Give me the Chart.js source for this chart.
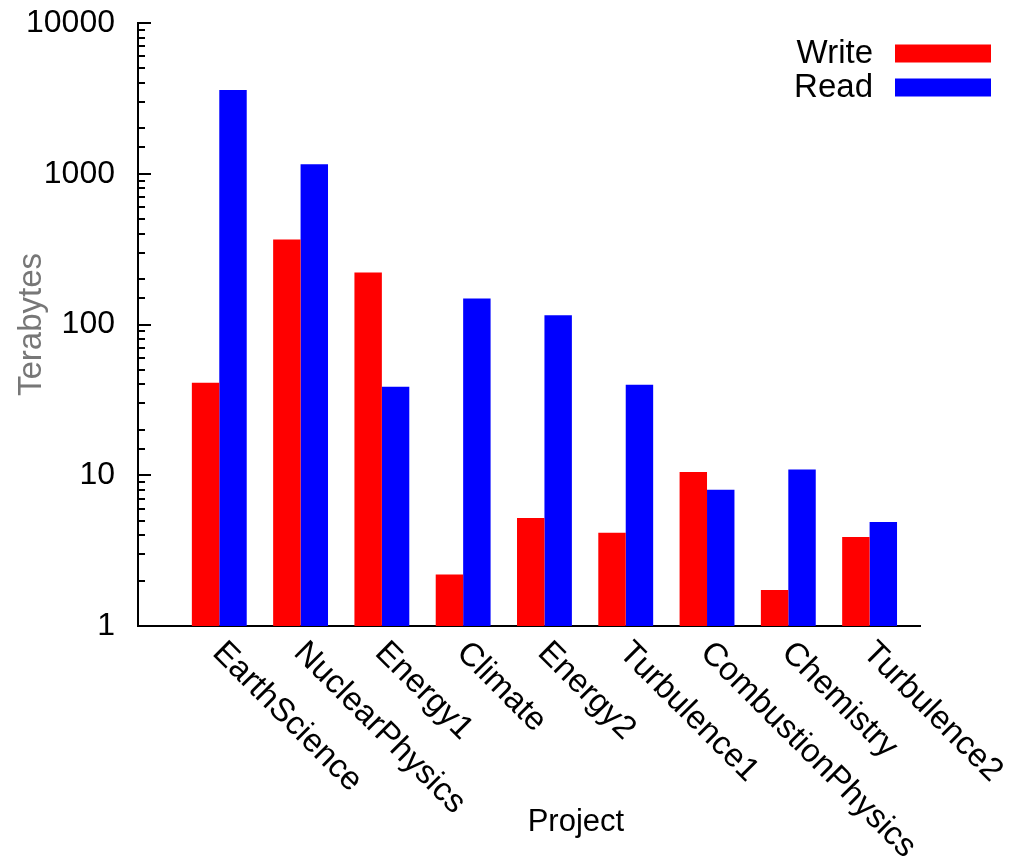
<!DOCTYPE html>
<html>
<head>
<meta charset="utf-8">
<title>Terabytes per project</title>
<script src="https://cdn.jsdelivr.net/npm/chart.js@4"></script>
<style>
  html, body { margin: 0; padding: 0; background: #fff; }
  #wrap { width: 1012px; height: 865px; position: relative; }
</style>
</head>
<body>
<div id="wrap"><canvas id="io-chart"></canvas></div>
<script>
/* ---- data ---- */
var projects = ['EarthScience', 'NuclearPhysics', 'Energy1', 'Climate', 'Energy2',
                'Turbulence1', 'CombustionPhysics', 'Chemistry', 'Turbulence2'];
var writeTB = [41, 367, 221, 2.2, 5.2, 4.15, 10.5, 1.73, 3.9];
var readTB  = [3590, 1157, 38.7, 149, 115, 39.9, 8.0, 10.9, 4.9];
var seriesNames = ['Write', 'Read'];
var yTitle = 'Terabytes';
var xTitle = 'Project';

(function() {
  var FONT = '"Liberation Sans", Arial, sans-serif';
  Chart.defaults.font.family = FONT;
  Chart.defaults.font.size = 32;
  Chart.defaults.color = '#000';

  function isDecade(v) {
    var l = Math.log10(v);
    return Math.abs(l - Math.round(l)) < 1e-9;
  }

  function points(arr) {
    return arr.map(function(v, i) { return { x: i, y: v }; });
  }

  // gnuplot-ish bits Chart.js won't do by itself:
  // inward y ticks, 45deg labels hanging from the tick, key inside the plot
  var overlay = {
    id: 'overlay',
    afterDraw: function(chart) {
      var ctx = chart.ctx;
      var xs = chart.scales.x, ys = chart.scales.y;
      var area = chart.chartArea;
      ctx.save();

      ctx.strokeStyle = '#000';
      ctx.lineWidth = 2;
      ys.ticks.forEach(function(t) {
        var y = Math.round(ys.getPixelForValue(t.value));
        var len = isDecade(t.value) ? 13 : 7;
        ctx.beginPath();
        ctx.moveTo(area.left, y);
        ctx.lineTo(area.left + len, y);
        ctx.stroke();
      });

      ctx.font = '33px ' + FONT;
      ctx.fillStyle = '#000';
      ctx.textAlign = 'left';
      ctx.textBaseline = 'alphabetic';
      projects.forEach(function(name, i) {
        var x = xs.getPixelForValue(i);
        ctx.save();
        ctx.translate(x - 8, area.bottom + 28);
        ctx.rotate(Math.PI / 4);
        ctx.fillText(name, 0, 0);
        ctx.restore();
      });

      ctx.font = '31px ' + FONT;
      ctx.textAlign = 'center';
      ctx.fillText(xTitle, area.left + (area.right - area.left) * 0.56, 831);

      // key
      ctx.font = '33px ' + FONT;
      ctx.textAlign = 'right';
      ctx.textBaseline = 'middle';
      chart.data.datasets.forEach(function(ds, i) {
        var cy = 53.5 + i * 34;
        ctx.fillStyle = '#000';
        ctx.fillText(ds.label, 873, cy);
        ctx.fillStyle = ds.backgroundColor;
        ctx.fillRect(895, cy - 9, 96, 18);
      });

      ctx.restore();
    }
  };

  var el = document.getElementById('io-chart');
  new Chart(el, {
    type: 'bar',
    data: {
      datasets: [{
        label: seriesNames[0],
        data: points(writeTB),
        backgroundColor: '#ff0000',
        borderWidth: 0
      }, {
        label: seriesNames[1],
        data: points(readTB),
        backgroundColor: '#0000ff',
        borderWidth: 0
      }]
    },
    options: {
      responsive: true,
      maintainAspectRatio: false,
      animation: false,
      layout: { padding: { top: 23, right: 92, bottom: 239, left: 0 } },
      datasets: { bar: { categoryPercentage: 0.675, barPercentage: 1 } },
      plugins: {
        legend: { display: false },
        tooltip: { enabled: false }
      },
      scales: {
        x: {
          type: 'linear',
          offset: false,
          min: -1,
          max: 8.62,
          ticks: { display: false },
          grid: { display: false, drawTicks: false, offset: false },
          border: { display: true, color: '#000', width: 2 }
        },
        y: {
          type: 'logarithmic',
          min: 1,
          max: 10000,
          afterFit: function(scale) {
            scale.width = 138;
            scale.paddingTop = 0;
            scale.paddingBottom = 0;
          },
          title: {
            display: true,
            text: yTitle,
            color: '#777',
            font: { size: 33 },
            padding: { top: 12, bottom: 0 }
          },
          ticks: {
            autoSkip: false,
            padding: 23,
            callback: function(v) { return isDecade(v) ? String(v) : ''; }
          },
          grid: { display: false, drawTicks: false },
          border: { display: true, color: '#000', width: 2 }
        }
      }
    },
    plugins: [overlay]
  });
})();
</script>
</body>
</html>
